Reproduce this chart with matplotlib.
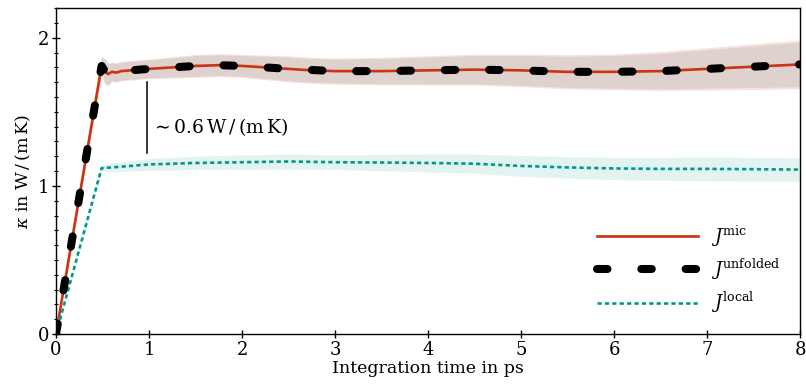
import matplotlib
matplotlib.use("Agg")
import matplotlib.pyplot as plt
from matplotlib.ticker import MultipleLocator
import numpy as np

plt.rcParams["font.family"] = ["DejaVu Serif"]
plt.rcParams["mathtext.fontset"] = "dejavuserif"

# thermal conductivity vs. integration time
t_mic = [0.0, 0.49, 0.53, 0.56, 0.6, 0.65, 0.7, 0.8, 1.0, 1.25, 1.5, 1.75, 2.0,
         2.25, 2.5, 2.75, 3.0, 3.5, 4.0, 4.5, 5.0, 5.5, 6.0, 6.5, 7.0, 7.5, 8.0]
kappa_mic = [0.0, 1.81, 1.77, 1.755, 1.77, 1.765, 1.775, 1.78, 1.79, 1.80, 1.81,
             1.815, 1.81, 1.80, 1.79, 1.78, 1.775, 1.775, 1.78, 1.785, 1.78,
             1.77, 1.77, 1.775, 1.79, 1.805, 1.82]
err_mic = [0.0, 0.06, 0.08, 0.07, 0.06, 0.06, 0.06, 0.06, 0.06, 0.065, 0.07,
           0.07, 0.07, 0.075, 0.08, 0.08, 0.08, 0.085, 0.09, 0.095, 0.10,
           0.105, 0.11, 0.12, 0.13, 0.14, 0.15]

t_unf = [0.0, 0.49, 0.53, 0.56, 0.6, 0.7, 0.8, 1.0, 1.25, 1.5, 1.75, 2.0, 2.5,
         3.0, 3.5, 4.0, 4.5, 5.0, 5.5, 6.0, 6.5, 7.0, 7.5, 8.0]
kappa_unf = [0.0, 1.81, 1.77, 1.755, 1.77, 1.775, 1.78, 1.79, 1.80, 1.81, 1.815,
             1.81, 1.79, 1.775, 1.775, 1.78, 1.785, 1.78, 1.77, 1.77, 1.775,
             1.79, 1.805, 1.82]

t_loc = [0.0, 0.49, 0.6, 0.8, 1.0, 1.5, 2.0, 2.5, 3.0, 3.5, 4.0, 4.5, 5.0, 5.5,
         6.0, 6.5, 7.0, 7.5, 8.0]
kappa_loc = [0.0, 1.12, 1.125, 1.135, 1.145, 1.155, 1.16, 1.165, 1.16, 1.158,
             1.155, 1.15, 1.135, 1.125, 1.118, 1.115, 1.115, 1.113, 1.11]
err_loc = [0.0, 0.02, 0.03, 0.035, 0.04, 0.045, 0.05, 0.05, 0.05, 0.055, 0.06,
           0.065, 0.07, 0.072, 0.075, 0.078, 0.08, 0.08, 0.08]

RED = "#CC3311"
TEAL = "#009988"

fig = plt.figure(figsize=(8.06, 3.88), dpi=100)
ax = fig.add_axes([0.0695, 0.139, 0.9231, 0.840])

tm, km, em = map(np.asarray, (t_mic, kappa_mic, err_mic))
tl, kl, el = map(np.asarray, (t_loc, kappa_loc, err_loc))

ax.fill_between(tm, km - em * 1.1, km + em * 1.1, color="#f6e2de", lw=0, zorder=1)
ax.fill_between(tm, km - em, km + em, color="#dfd1ce", lw=0, zorder=1.1)
ax.fill_between(tl, kl - el, kl + el, color="#e2f3f1", lw=0, zorder=1)

ax.plot(t_mic, kappa_mic, color=RED, lw=1.9, solid_joinstyle="round",
        label=r"$J^{\mathrm{mic}}$", zorder=3)
ax.plot(t_unf, kappa_unf, color="black", lw=5.8, dashes=(1.3, 4.2),
        dash_capstyle="round", dash_joinstyle="round",
        label=r"$J^{\mathrm{unfolded}}$", zorder=4)
ax.plot(t_loc, kappa_loc, color=TEAL, lw=1.9, dashes=(1.6, 1.2),
        label=r"$J^{\mathrm{local}}$", zorder=3)

# gap between the two estimates
ax.plot([0.98, 0.98], [1.22, 1.70], color="black", lw=1.1, zorder=5)
ax.text(1.02, 1.40, r"$\sim 0.6\,\mathrm{W}\,/\,(\mathrm{m\,K})$", fontsize=13.5,
        va="center", ha="left")

ax.set_xlim(0, 8)
ax.set_ylim(0, 2.2)
ax.set_xticks(range(9))
ax.set_yticks([0, 1, 2])
ax.yaxis.set_minor_locator(MultipleLocator(0.1))
ax.tick_params(axis="both", which="major", direction="inout", length=6, width=1,
               labelsize=13, pad=2)
ax.tick_params(axis="y", which="minor", direction="inout", length=3.5, width=0.8)
for s in ax.spines.values():
    s.set_linewidth(1.0)

ax.set_xlabel("Integration time in ps", fontsize=12.5, labelpad=1)
ax.set_ylabel(r"$\kappa$ in W$\,/\,$(m$\,$K)", fontsize=12.5, labelpad=3)

ax.legend(loc="lower right", bbox_to_anchor=(0.995, 0.008), frameon=False,
          fontsize=13, handlelength=5.6, handletextpad=0.7, labelspacing=0.45)

fig.savefig("out.png", dpi=100)
